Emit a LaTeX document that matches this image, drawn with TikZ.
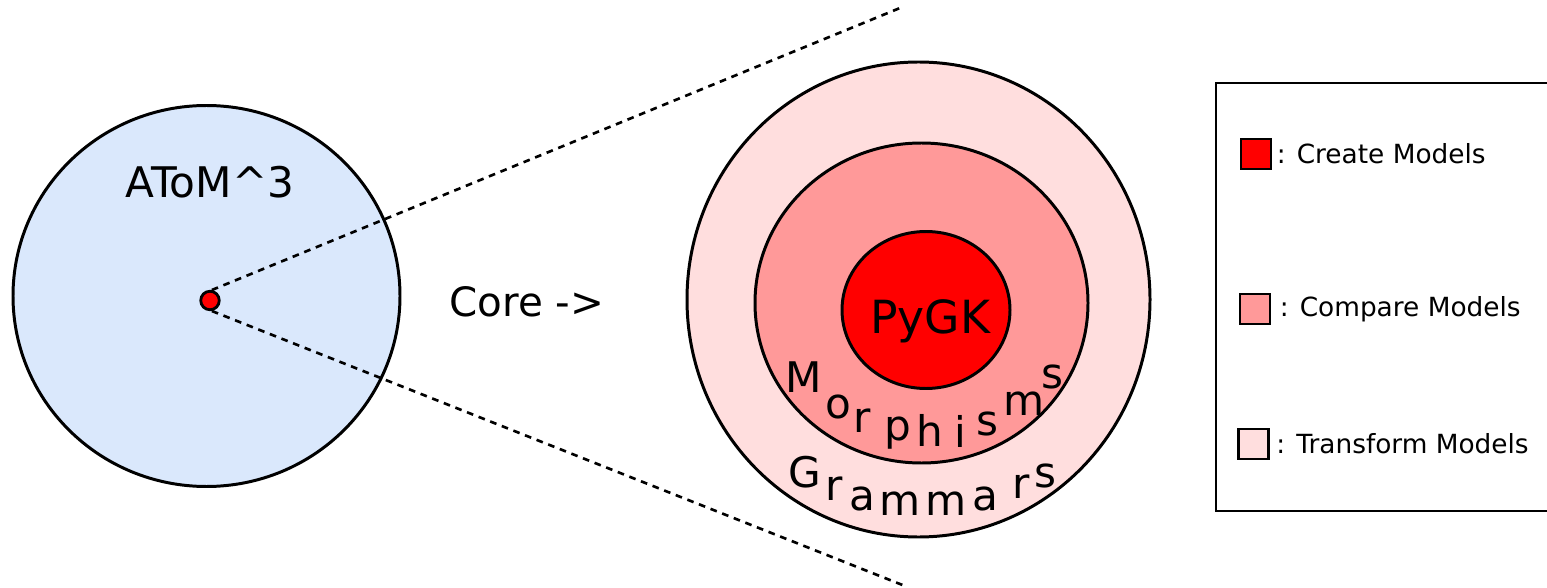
\documentclass[tikz,border=0pt]{standalone}
\usepackage{fontspec}
\setmainfont{DejaVu Sans}
\usetikzlibrary{positioning}
\definecolor{atomblue}{RGB}{218,232,252}
\definecolor{createred}{RGB}{255,0,0}
\definecolor{comparered}{RGB}{255,153,153}
\definecolor{transformred}{RGB}{255,222,222}
\tikzset{
	ring/.style={draw, line width=1.7pt},
	zoomline/.style={line width=1.5pt, dash pattern=on 3.8pt off 3.3pt},
	legendsq/.style={draw, line width=1.6pt, minimum size=0.6cm, inner sep=0pt},
	legendtext/.style={font=\fontsize{15pt}{18pt}\selectfont, inner sep=0pt},
	arcletter/.style={font=\fontsize{24pt}{28pt}\selectfont, inner sep=0pt, anchor=base},
}
\begin{document}
\begin{tikzpicture}
	\clip (0,0) rectangle (30.94,11.74);
	\fill [white] (0,0) rectangle (30.94,11.74);
	% left: the whole tool
	\draw [ring, fill=atomblue] (4.13,5.82) ellipse [x radius=3.87, y radius=3.81];
	\node [font=\fontsize{24pt}{29pt}\selectfont] (atom) at (4.20,8.10) {AToM\textasciicircum 3};
	\node [circle, draw, line width=1.6pt, fill=createred, minimum size=0.37cm, inner sep=0pt] (core) at (4.20,5.73) {};
	\coordinate (zoomtop) at (18.00,11.58);
	\coordinate (zoombot) at (18.10,0.02);
	\draw [zoomline] (core.80) -- (zoomtop);
	\draw [zoomline] (core.-80) -- (zoombot);
	\node [font=\fontsize{23pt}{28pt}\selectfont] (corelbl) at (10.54,5.70) {Core ->};
	% right: the core, layer by layer
	\draw [ring, fill=transformred] (18.37,5.75) ellipse [x radius=4.63, y radius=4.75];
	\draw [ring, fill=comparered] (18.43,5.68) ellipse [x radius=3.33, y radius=3.20];
	\draw [ring, fill=createred] (18.52,5.54) ellipse [x radius=1.68, y radius=1.57];
	\node [font=\fontsize{26pt}{31pt}\selectfont, anchor=base] (pygk) at (18.60,5.08) {PyGK};
	\foreach \ch/\x/\y [count=\i] in {M/16.08/3.90, o/16.76/3.38, r/17.24/3.10, p/17.96/2.94, h/18.60/2.82, i/19.20/2.80, s/19.74/3.04, m/20.48/3.44, s/21.04/3.98}
		\node [arcletter] (morph\i) at (\x,\y) {\ch};
	\foreach \ch/\x/\y [count=\i] in {G/16.10/2.00, r/16.68/1.74, a/17.25/1.54, m/18.00/1.44, m/18.92/1.44, a/19.70/1.54, r/20.42/1.78, s/20.90/2.00}
		\node [arcletter] (gram\i) at (\x,\y) {\ch};
	% legend
	\draw [line width=1.6pt] (24.32,10.08) rectangle (31.30,1.52);
	\node [legendsq, fill=createred] (sqcreate) at (25.12,8.66) {};
	\node [legendsq, fill=comparered] (sqcompare) at (25.10,5.56) {};
	\node [legendsq, fill=transformred] (sqtransform) at (25.07,2.86) {};
	\node [legendtext, right=0.08cm of sqcreate] (create) {: Create Models};
	\node [legendtext, right=0.16cm of sqcompare] (compare) {: Compare Models};
	\node [legendtext, right=0.12cm of sqtransform] (transform) {: Transform Models};
\end{tikzpicture}
\end{document}
